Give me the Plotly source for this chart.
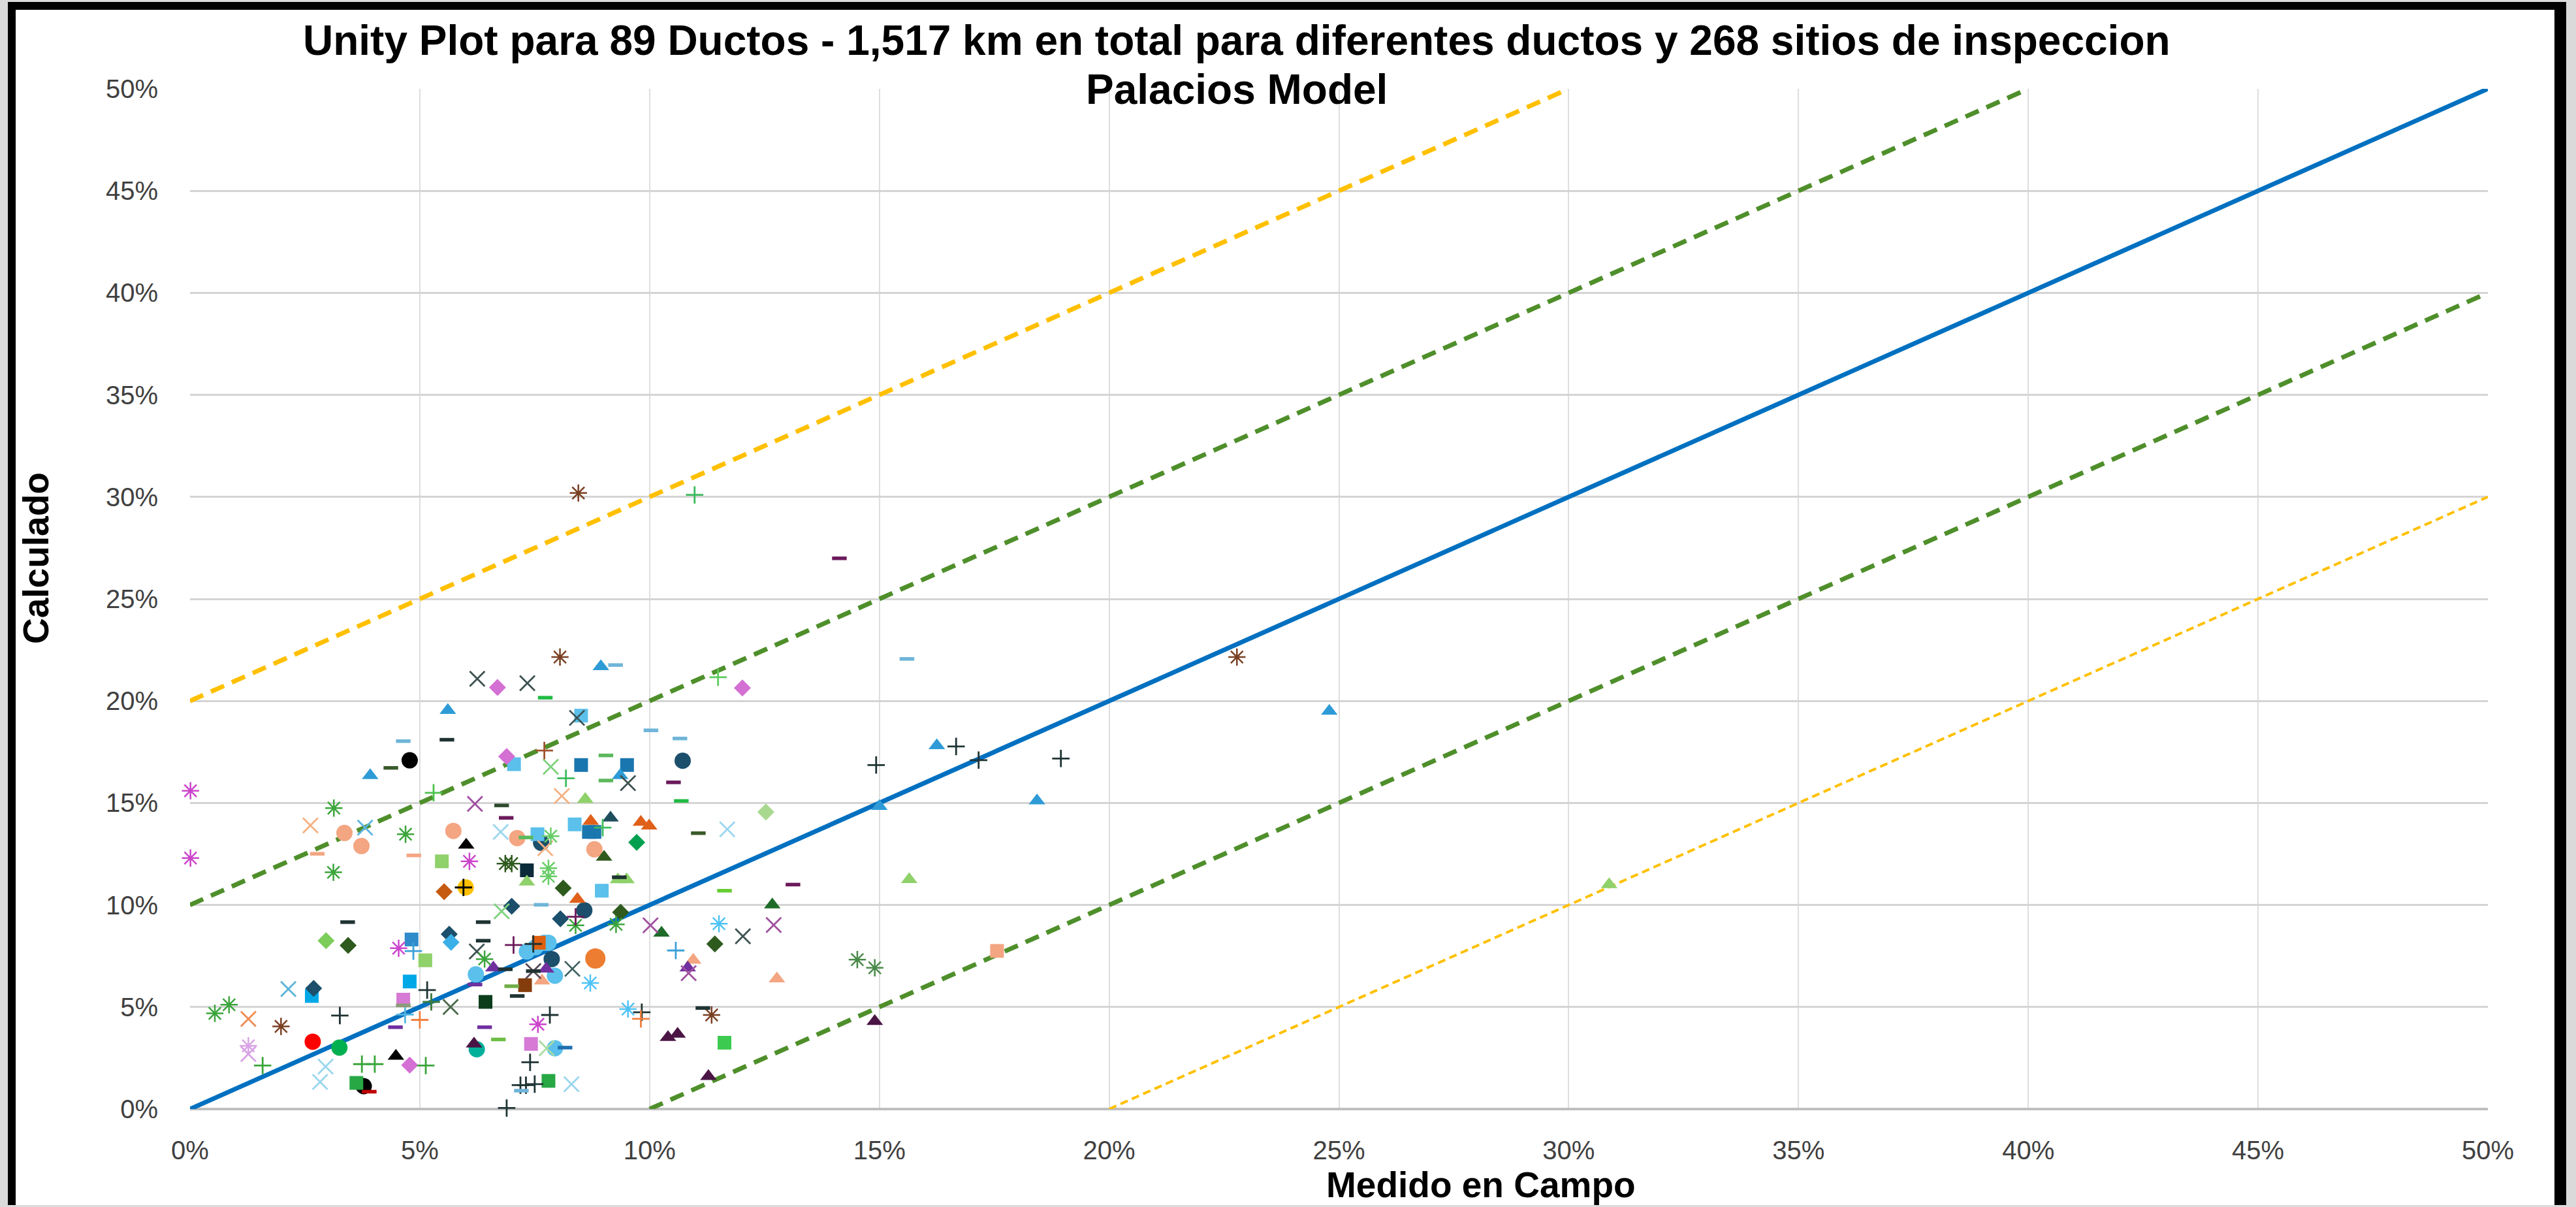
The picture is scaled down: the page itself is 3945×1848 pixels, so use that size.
import plotly.graph_objects as go

# ---------------- DATA (values in %) ----------------
title_line1 = "Unity Plot para 89 Ductos - 1,517 km en total para diferentes ductos y 268 sitios de inspeccion"
title_line2 = "Palacios Model"
x_title = "Medido en Campo"
y_title = "Calculado"
tick_vals = [0, 5, 10, 15, 20, 25, 30, 35, 40, 45, 50]
tick_text = ["0%", "5%", "10%", "15%", "20%", "25%", "30%", "35%", "40%", "45%", "50%"]

# reference lines (end points)
unity_x = [0, 50]
unity_y = [0, 50]
plus10_x = [0, 40]
plus10_y = [10, 50]
minus10_x = [10, 50]
minus10_y = [0, 40]
plus20_x = [0, 30]
plus20_y = [20, 50]
minus20_x = [20, 50]
minus20_y = [0, 30]

circle_x = [2.67, 3.25, 3.78, 4.78, 6.22, 6.24, 6.0, 7.33, 7.52, 7.71, 7.80, 7.87, 7.94, 8.58, 7.94,
            3.36, 3.73, 5.73, 7.12, 7.64, 8.80, 10.72]
circle_y = [3.30, 3.01, 1.12, 17.09, 6.60, 2.93, 10.86, 7.72, 7.93, 8.15, 8.15, 7.35, 6.53, 9.74, 2.98,
            13.53, 12.89, 13.63, 13.28, 13.05, 12.73, 17.07]
big_circle_x = [8.82]
big_circle_y = [7.38]

square_x = [2.65, 3.62, 4.64, 4.82, 5.12, 4.78, 6.43, 7.33, 8.96, 7.29, 7.59, 7.42, 7.80, 11.63,
            5.48, 8.51, 7.05, 8.51, 9.51, 7.56, 8.37, 8.68, 8.80, 17.56]
square_y = [5.54, 1.28, 5.36, 8.31, 7.29, 6.25, 5.25, 11.70, 10.70, 6.07, 8.15, 3.19, 1.38, 3.25,
            12.14, 19.28, 16.90, 16.86, 16.86, 13.47, 13.95, 13.58, 13.58, 7.75]

diamond_x = [2.69, 2.96, 3.44, 4.78, 5.53, 5.64, 5.68, 8.12, 7.00, 8.06, 9.37, 11.42, 6.69, 12.02,
             6.89, 9.72, 12.53]
diamond_y = [5.91, 8.25, 8.02, 2.15, 10.65, 8.57, 8.17, 10.83, 9.94, 9.32, 9.64, 8.09, 20.66, 20.64,
             17.28, 13.07, 14.56]

triangle_x = [4.48, 6.60, 6.18, 7.33, 9.31, 9.50, 8.43, 7.75, 7.66, 10.26, 12.67, 10.95, 10.83, 12.77,
              10.40, 10.61, 11.28, 6.01, 3.92, 5.61, 8.94, 9.36, 8.60, 8.72, 9.15, 9.81, 9.99, 9.01,
              16.25, 15.00, 18.43, 15.65, 14.90, 30.88, 24.79]
triangle_y = [2.59, 6.92, 3.19, 11.13, 11.24, 11.24, 10.28, 6.87, 6.28, 8.63, 10.01, 7.30, 6.92, 6.39,
              3.51, 3.67, 1.60, 12.94, 16.35, 19.54, 21.69, 16.35, 15.18, 14.11, 14.27, 14.06, 13.88, 12.35,
              17.81, 14.84, 15.11, 11.25, 4.30, 11.00, 19.50]

xmark_x = [1.27, 1.27, 2.95, 2.83, 2.14, 5.67, 6.24, 6.78, 8.32, 10.02, 12.03, 12.70, 10.85, 7.76,
           8.30, 2.62, 3.81, 6.20, 6.25, 7.34, 8.42, 7.85, 9.53, 8.09, 6.76, 7.73, 11.69, 7.47]
xmark_y = [4.42, 2.70, 2.08, 1.33, 5.88, 5.00, 7.72, 9.69, 6.87, 9.00, 8.47, 9.02, 6.66, 2.98,
           1.22, 13.90, 13.79, 14.96, 21.09, 20.87, 19.17, 16.77, 15.97, 15.34, 13.58, 12.78, 13.71, 6.76]

star_x = [0.54, 0.85, 3.12, 1.98, 1.27, 4.54, 6.41, 7.80, 7.80, 8.39, 9.27, 8.71, 11.51, 9.53, 7.57,
          11.35, 0.01, 0.01, 3.13, 4.69, 6.08, 8.05, 7.85, 6.86, 7.00, 14.52, 14.90, 8.45, 22.78]
star_y = [4.69, 5.11, 11.60, 4.05, 3.10, 7.88, 7.35, 11.40, 11.80, 9.00, 9.05, 6.18, 9.08, 4.90, 4.15,
          4.61, 15.60, 12.30, 14.75, 13.47, 12.14, 22.15, 13.37, 12.03, 12.03, 7.32, 6.92, 30.19, 22.15]

plus_x = [1.58, 3.26, 3.74, 4.02, 5.13, 4.68, 5.00, 4.86, 5.16, 5.25, 5.95, 8.39, 7.04, 7.47, 10.57,
          9.83, 9.81, 7.83, 7.40, 7.19, 7.31, 7.50, 6.89, 5.30, 11.49, 7.71, 8.18, 8.98, 10.98,
          14.93, 16.67, 17.16, 18.95]
plus_y = [2.13, 4.58, 2.20, 2.20, 2.13, 4.63, 4.37, 7.74, 5.83, 5.25, 10.86, 9.42, 8.04, 8.09, 7.77,
          4.74, 4.42, 4.61, 2.29, 1.17, 1.17, 1.22, 0.05, 15.50, 21.16, 17.57, 16.21, 13.79, 30.10,
          16.86, 17.77, 17.10, 17.18]

dash_x = [3.43, 4.47, 6.41, 4.64, 3.90, 6.38, 6.38, 6.20, 6.71, 9.34, 7.64, 6.86, 7.47, 7.00, 7.12,
          8.16, 7.21, 11.63, 13.12, 11.16, 2.77, 4.87, 4.37, 4.64, 5.59, 9.26, 7.73, 10.03, 10.66,
          10.52, 10.69, 9.05, 9.05, 6.78, 6.88, 7.31, 11.06, 14.13, 15.60]
dash_y = [9.16, 4.01, 4.01, 5.08, 0.85, 9.16, 8.25, 6.10, 3.41, 11.36, 10.01, 6.85, 6.76, 6.02, 5.54,
          3.01, 0.90, 10.70, 11.00, 4.95, 12.51, 12.43, 16.72, 18.03, 18.10, 21.76, 20.16, 18.56, 18.16,
          16.01, 15.10, 17.33, 16.10, 14.88, 14.27, 13.31, 13.52, 26.99, 22.06]

# ---------------- STYLES ----------------
BLK = "#000000"; DK = "#1F3333"; DKG = "#2E5A1E"; DKGT = "#1E6B2A"; GRN = "#3BA53B"
GRN2 = "#22BB44"; LGRN = "#8FD16A"; TEALG = "#00B050"; RED = "#FF0000"; ORG = "#ED7D31"
ORGD = "#C55A11"; ORGR = "#E0601A"; LORG = "#F4A582"; GOLD = "#FFC000"; BRN = "#843C0C"
BRNA = "#7A3F22"; ORCH = "#D46FD4"; MAG = "#CC44CC"; PUR = "#7030A0"; PURX = "#A050A0"
DPUR = "#4A1545"; DPURD = "#6B1A5B"; SKY = "#5BC0EB"; BSKY = "#00A8E8"; BLU = "#2E9BD6"
BLUS = "#1A76AE"; DTEAL = "#1B4F6B"; NAVY = "#0B2A3A"; DSQ = "#0B3D1B"; LBX = "#9AD6EE"
LBD = "#6FB5D9"; LAV = "#D9A3E6"; DGX = "#3E5252"; OLV = "#8C9C78"; LGX = "#7FD17F"
LOX = "#F4B183"; SKYA = "#4FC3F7"; LGA = "#66CC66"; MGRN = "#5CB85C"; PGRN = "#3DBB5D"

circle_colors = [RED, TEALG, BLK, BLK, SKY, "#00B09A", GOLD, SKY, SKY, SKY, SKY, DTEAL, SKY, DTEAL, SKY,
                 LORG, LORG, LORG, LORG, DTEAL, LORG, DTEAL]
square_colors = [BSKY, "#28A745", "#D67AD6", "#2F8BC9", LGRN, BSKY, DSQ, NAVY, SKY, BRN, "#E06010",
                 "#D67AD6", "#28A745", "#3CCB50", LGRN, SKY, SKY, BLUS, BLUS, SKY, SKY, BLUS, BLUS, LORG]
diamond_colors = [DTEAL, "#7CCD5A", DKG, ORCH, ORGD, DTEAL, "#3BB0E8", DKG, DTEAL, DTEAL, DKG, DKG,
                  ORCH, ORCH, ORCH, "#00A050", "#A9D98E"]
triangle_colors = [BLK, PUR, DPUR, LGRN, LGRN, LGRN, ORGR, PUR, LORG, DKGT, DKGT, LORG, PUR, LORG,
                   DPUR, DPUR, DPUR, BLK, BLU, BLU, BLU, BLU, LGRN, ORGR, "#1F4E5F", ORGR, ORGR, DKG,
                   BLU, BLU, BLU, LGRN, DPUR, LGRN, BLU]
xmark_colors = ["#F08C50", LAV, LBX, LBX, "#5BB5D6", "#4A6A4A", DGX, LGX, "#3E6060", PURX, DGX, PURX,
                PURX, "#A8DCA0", LBX, LOX, "#5BB5E0", PURX, DGX, DGX, DGX, LGX, DGX, LOX, LBX, LOX, LBX,
                "#5A4A5A"]
star_colors = [GRN, GRN, GRN, BRNA, LAV, MAG, GRN, LGA, LGA, GRN, GRN, SKYA, SKYA, SKYA, MAG, BRNA,
               MAG, MAG, GRN, GRN, MAG, BRNA, LGA, DKG, DKG, "#4A8A4A", "#4A8A4A", BRNA, BRNA]
plus_colors = [GRN, DK, GRN, GRN, GRN, "#52B4E0", "#F08040", "#3CA0D8", DK, "#3C7A3C", BLK, DPURD,
               DPURD, DK, "#3CA0D8", DK, "#F08040", DK, DK, DK, DK, DK, DK, "#4CC24C", "#5CCB5C",
               "#A0522D", PGRN, PGRN, PGRN, DK, DK, DK, DK]
dash_colors = [DK, PUR, PUR, OLV, "#C00000", DK, DK, PUR, "#6DBE45", DK, LBD, DK, DK, "#70AD47", DK,
               "#2070B0", LBD, "#66CC33", DPURD, DK, LORG, LORG, "#3A5A2A", LBD, DK, LBD, GRN2, LBD,
               LBD, DPURD, GRN2, MGRN, MGRN, "#2E4A2E", DPURD, MGRN, "#3A5A2A", DPURD, LBD]

FONT = "Liberation Sans, Arial, sans-serif"
W, H = 3945, 1848
L, R, T, B = 291, 135, 136, 150
PW, PH = W - L - R, H - T - B


def px_x(X):
    return (X - L) / PW


def px_y(Y):
    return (H - B - Y) / PH


fig = go.Figure()

line_specs = [
    (plus20_x, plus20_y, "#FFC000", 7, "22px,13px"),
    (minus20_x, minus20_y, "#FFC000", 4, "12px,7px"),
    (plus10_x, plus10_y, "#4F8F2B", 7, "22px,13px"),
    (minus10_x, minus10_y, "#4F8F2B", 7, "22px,13px"),
    (unity_x, unity_y, "#0070C0", 7, "solid"),
]
for lx, ly, col, wd, dsh in line_specs:
    fig.add_trace(go.Scatter(x=lx, y=ly, mode="lines", line=dict(color=col, width=wd, dash=dsh),
                             hoverinfo="skip", showlegend=False))

marker_specs = [
    (circle_x, circle_y, circle_colors, "circle", 25, 0),
    (big_circle_x, big_circle_y, [ORG], "circle", 31, 0),
    (square_x, square_y, square_colors, "square", 21, 0),
    (diamond_x, diamond_y, diamond_colors, "diamond", 20, 0),
    (triangle_x, triangle_y, triangle_colors, "triangle-up", 22, 0),
    (xmark_x, xmark_y, xmark_colors, "x-thin-open", 23, 2.8),
    (star_x, star_y, star_colors, "asterisk-open", 22, 2.5),
    (plus_x, plus_y, plus_colors, "cross-thin-open", 19, 2.8),
    (dash_x, dash_y, dash_colors, "line-ew-open", 16, 5.5),
]
for mx, my, mc, sym, sz, lw in marker_specs:
    fig.add_trace(go.Scatter(
        x=mx, y=my, mode="markers", cliponaxis=False, showlegend=False,
        marker=dict(symbol=sym, size=sz, color=mc, line=dict(width=lw, color=mc) if lw else dict(width=0)),
    ))

axis_common = dict(
    range=[0, 50], tickvals=tick_vals, ticktext=tick_text, showline=False,
    ticks="outside", tickcolor="rgba(0,0,0,0)", tickfont=dict(family=FONT, size=40, color="#404040"),
    fixedrange=True,
)
fig.update_xaxes(**axis_common, ticklen=28, showgrid=True, gridcolor="#DEDEDE", gridwidth=2, zeroline=False)
fig.update_yaxes(**axis_common, ticklen=40, showgrid=True, gridcolor="#D4D4D4", gridwidth=3,
                 zeroline=True, zerolinecolor="#BFBFBF", zerolinewidth=4)

shapes = [
    # white page inside the frame
    dict(type="rect", xref="paper", yref="paper", x0=px_x(12), x1=px_x(3930), y0=px_y(1845), y1=px_y(3),
         fillcolor="white", line=dict(width=0), layer="below"),
    # black frame: left, top, right
    dict(type="rect", xref="paper", yref="paper", x0=px_x(12), x1=px_x(24), y0=px_y(1845), y1=px_y(3),
         fillcolor="black", line=dict(width=0), layer="below"),
    dict(type="rect", xref="paper", yref="paper", x0=px_x(12), x1=px_x(3930), y0=px_y(15), y1=px_y(3),
         fillcolor="black", line=dict(width=0), layer="below"),
    dict(type="rect", xref="paper", yref="paper", x0=px_x(3912), x1=px_x(3930), y0=px_y(1845), y1=px_y(3),
         fillcolor="black", line=dict(width=0), layer="below"),
]

annotations = [
    dict(text="<b>" + title_line1 + "</b>", x=px_x(1894), y=px_y(62), xref="paper", yref="paper",
         showarrow=False, xanchor="center", yanchor="middle", font=dict(family=FONT, size=64, color="black")),
    dict(text="<b>" + title_line2 + "</b>", x=px_x(1894), y=px_y(137), xref="paper", yref="paper",
         showarrow=False, xanchor="center", yanchor="middle", font=dict(family=FONT, size=64, color="black")),
    dict(text="<b>" + x_title + "</b>", x=px_x(2268), y=px_y(1814), xref="paper", yref="paper",
         showarrow=False, xanchor="center", yanchor="middle", font=dict(family=FONT, size=55, color="black")),
    dict(text="<b>" + y_title + "</b>", x=px_x(55), y=px_y(855), xref="paper", yref="paper",
         showarrow=False, xanchor="center", yanchor="middle", textangle=-90,
         font=dict(family=FONT, size=55, color="black")),
]

fig.update_layout(
    width=W, height=H, autosize=False,
    margin=dict(l=L, r=R, t=T, b=B, pad=0),
    paper_bgcolor="#DADADA", plot_bgcolor="rgba(0,0,0,0)",
    shapes=shapes, annotations=annotations, showlegend=False,
    font=dict(family=FONT),
)

fig.write_html("out.html", config={"displayModeBar": False},
               post_script="document.body.style.margin='0';document.body.style.overflow='hidden';")
